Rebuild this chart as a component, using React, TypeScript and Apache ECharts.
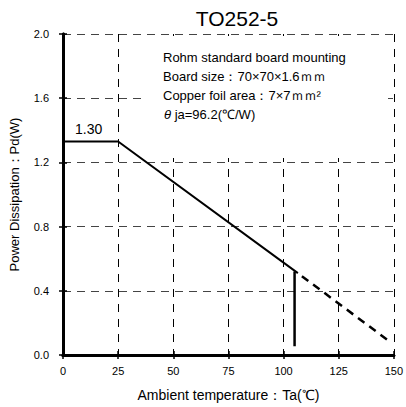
import React, { useEffect, useRef } from "react";
import * as echarts from "echarts";

const xTicks = [0, 25, 50, 75, 100, 125, 150];
const yTicks = [0, 0.4, 0.8, 1.2, 1.6, 2.0];
const deratingSolid: [number, number][] = [[0, 1.33], [25, 1.33], [106.5, 0.51]];
const limitLine: [number, number][] = [[105, 0.52], [105, 0.055]];
const deratingDashed: [number, number][] = [[106.5, 0.51], [148, 0.085]];
const notes = [
  "Rohm standard board mounting",
  "Board size：70×70×1.6ｍｍ",
  "Copper foil area：7×7ｍｍ²",
];
const title = "TO252-5";
const plateauLabel = "1.30";

const FONT = "'Liberation Sans', Arial, sans-serif";

export default function App() {
  const ref = useRef<HTMLDivElement>(null);
  useEffect(() => {
    if (!ref.current) return;
    const chart = echarts.init(ref.current, null, { renderer: "svg" });
    const frame = { show: true, lineStyle: { color: "#000", width: 3 } };
    const tickIn = { show: true, inside: true, length: 4, lineStyle: { color: "#000", width: 1.5 } };
    chart.setOption({
      animation: false,
      backgroundColor: "#fff",
      title: {
        text: title,
        left: 232,
        textAlign: "center",
        top: 3,
        textStyle: { fontFamily: FONT, fontSize: 21, fontWeight: "normal", color: "#000" },
      },
      grid: { left: 63, top: 34, width: 336, height: 323 },
      xAxis: [
        {
          type: "value",
          min: 0,
          max: 150,
          interval: 25,
          position: "bottom",
          axisLine: frame,
          axisTick: tickIn,
          axisLabel: { color: "#000", fontFamily: FONT, fontSize: 11, margin: 10, formatter: (v: number) => (xTicks.includes(v) ? String(v) : "") },
          splitLine: { show: true, lineStyle: { color: "#000", width: 1, type: [8, 7] } },
          name: "Ambient temperature：Ta(℃)",
          nameLocation: "middle",
          nameGap: 33,
          nameTextStyle: { color: "#000", fontFamily: FONT, fontSize: 14 },
        },
        {
          type: "value",
          min: 0,
          max: 150,
          interval: 25,
          position: "top",
          z: 20,
          axisLine: frame,
          axisTick: tickIn,
          axisLabel: { show: false },
          splitLine: { show: false },
        },
      ],
      yAxis: [
        {
          type: "value",
          min: 0,
          max: 2,
          interval: 0.4,
          position: "left",
          axisLine: frame,
          axisTick: tickIn,
          axisLabel: { color: "#000", fontFamily: FONT, fontSize: 11, margin: 14, formatter: (v: number) => (yTicks.some((t) => Math.abs(t - v) < 1e-6) ? v.toFixed(1) : "") },
          splitLine: { show: true, lineStyle: { color: "#444", width: 1, type: [8, 6] } },
          name: "Power Dissipation：Pd(W)",
          nameLocation: "middle",
          nameGap: 42,
          nameTextStyle: { color: "#000", fontFamily: FONT, fontSize: 13 },
        },
        {
          type: "value",
          min: 0,
          max: 2,
          interval: 0.4,
          position: "right",
          z: 20,
          axisLine: frame,
          axisTick: tickIn,
          axisLabel: { show: false },
          splitLine: { show: false },
        },
      ],
      graphic: [
        {
          type: "rect",
          left: 143,
          top: 36,
          z: 10,
          shape: { width: 245, height: 122 },
          style: { fill: "#ffffff" },
        },
        ...notes.map((t, i) => ({
          type: "text",
          z: 11,
          left: 163,
          top: 51 + i * 19,
          style: { text: t, fill: "#000", font: `13px ${FONT}` },
        })),
        {
          type: "text",
          z: 11,
          left: 164,
          top: 108,
          style: {
            text: "{i|θ} ja=96.2(℃/W)",
            fill: "#000",
            font: `13px ${FONT}`,
            rich: { i: { fontStyle: "italic", fontFamily: FONT, fontSize: 13 } },
          },
        },
        {
          type: "text",
          z: 11,
          left: 75,
          top: 122,
          style: { text: plateauLabel, fill: "#000", font: `14px ${FONT}` },
        },
      ],
      series: [
        {
          type: "line",
          data: deratingSolid,
          showSymbol: false,
          z: 12,
          lineStyle: { color: "#000", width: 2 },
        },
        {
          type: "line",
          data: limitLine,
          showSymbol: false,
          z: 12,
          lineStyle: { color: "#000", width: 2.5 },
        },
        {
          type: "line",
          data: deratingDashed,
          showSymbol: false,
          z: 12,
          lineStyle: { color: "#000", width: 2.5, type: [8, 6], dashOffset: -5 },
        },
      ],
    });
    return () => chart.dispose();
  }, []);
  return <div ref={ref} style={{ position: "absolute", left: 0, top: 0, width: 406, height: 407 }} />;
}
